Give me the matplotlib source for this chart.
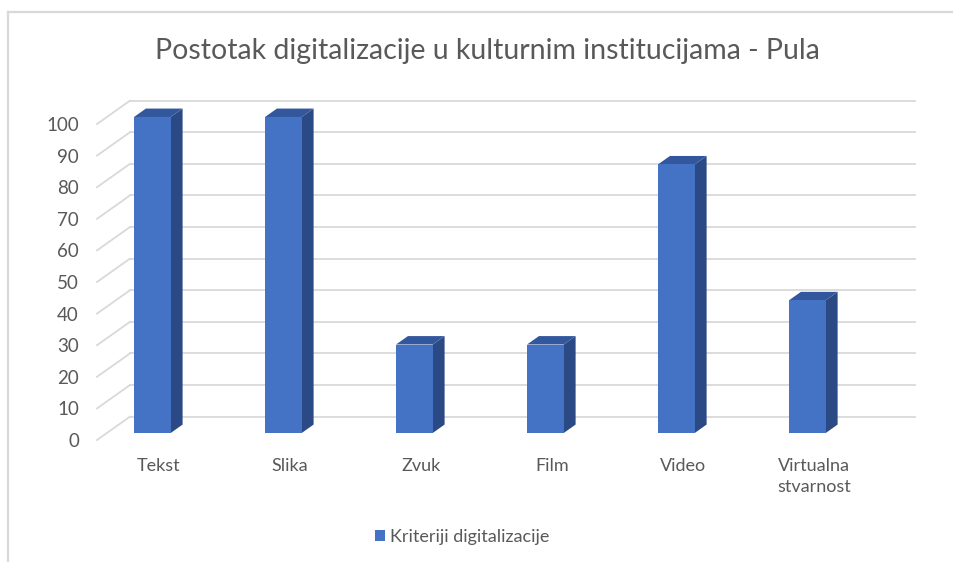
import numpy as np
import matplotlib
matplotlib.use("Agg")
import matplotlib.pyplot as plt
from matplotlib.patches import Polygon, Patch
from matplotlib.lines import Line2D

categories = ["Tekst", "Slika", "Zvuk", "Film", "Video", "Virtualna\nstvarnost"]
values = [100, 100, 28, 28, 85, 42]
y_ticks = [0, 10, 20, 30, 40, 50, 60, 70, 80, 90, 100]
title = "Postotak digitalizacije u kulturnim institucijama - Pula"
series_name = "Kriteriji digitalizacije"

# fake 3D look: depth offsets in data units
DX = 0.252   # horizontal depth (category units)
DY = 7.4     # vertical depth (value units)
F_FRONT = 0.30  # bar front face depth fraction
F_BACK = 0.66   # bar back face depth fraction
BAR_W = 0.28

front_col = "#4472C4"
side_col = "#2B4A85"
top_col = "#32579C"
grid_col = "#D9D9D9"
text_col = "#595959"

plt.rcParams['font.family'] = ['Lato', 'DejaVu Sans']

fig = plt.figure(figsize=(9.54, 5.62), dpi=100)
ax = fig.add_axes([97 / 954, 1 - 440 / 562, 818 / 954, 108 * 3.16 / 562])
ax.set_xlim(-0.347, 5.897)
ax.set_ylim(0, 108)
for s in ax.spines.values():
    s.set_visible(False)

# back wall gridlines + floor/side diagonals
for v in y_ticks:
    ax.plot([-0.347 + DX, 5.897], [v + DY, v + DY], color=grid_col, lw=1.3, zorder=1, clip_on=False)
    ax.plot([-0.347, -0.347 + DX], [v, v + DY], color=grid_col, lw=1.3, zorder=1, clip_on=False)

# bars
x = np.arange(len(categories))
for i, v in enumerate(values):
    fx = x[i] + F_FRONT * DX
    fy = F_FRONT * DY
    bx = (F_BACK - F_FRONT) * DX
    by = (F_BACK - F_FRONT) * DY
    left, right = fx - BAR_W / 2, fx + BAR_W / 2
    side = [(right, fy), (right + bx, fy + by), (right + bx, fy + by + v), (right, fy + v)]
    top = [(left, fy + v), (right, fy + v), (right + bx, fy + v + by), (left + bx, fy + v + by)]
    ax.add_patch(Polygon(side, closed=True, facecolor=side_col, edgecolor="none", zorder=3))
    ax.add_patch(Polygon(top, closed=True, facecolor=top_col, edgecolor="none", zorder=3))
    ax.bar(fx, v, width=BAR_W, bottom=fy, color=front_col, zorder=4)

ax.set_yticks(y_ticks)
ax.set_yticklabels([str(t) for t in y_ticks], fontsize=13.5, color=text_col)
ax.tick_params(axis='y', length=0, pad=13)
ax.set_xticks(x + 0.5 * DX)
ax.set_xticklabels(categories, fontsize=13, color=text_col, linespacing=1.35)
ax.tick_params(axis='x', length=0, pad=13)

fig.text(487 / 954, 1 - 51 / 562, title, ha='center', va='center', fontsize=20.5, color=text_col)

fig.legend(handles=[Patch(facecolor=front_col, edgecolor="none")], labels=[series_name],
           loc='center', bbox_to_anchor=(462 / 954, 1 - 537 / 562), frameon=False,
           fontsize=13, labelcolor=text_col, handlelength=0.55, handleheight=0.55, handletextpad=0.3)

# chart border
fig.add_artist(Line2D([8 / 954, 1], [1 - 12 / 562, 1 - 12 / 562], color=grid_col, lw=1.6))
fig.add_artist(Line2D([8 / 954, 8 / 954], [0, 1 - 12 / 562], color=grid_col, lw=1.6))

fig.savefig("out.png", dpi=100)
